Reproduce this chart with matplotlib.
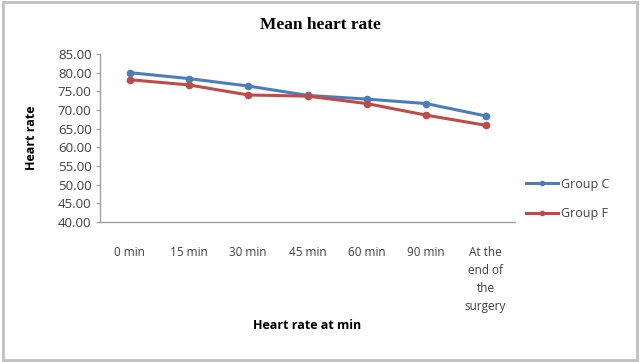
import matplotlib.pyplot as plt
from matplotlib.patches import Rectangle

categories = ["0 min", "15 min", "30 min", "45 min", "60 min", "90 min",
              "At the\nend of\nthe\nsurgery"]
group_c = [80.0, 78.4, 76.4, 73.9, 72.9, 71.7, 68.4]
group_f = [78.1, 76.7, 74.0, 73.7, 71.7, 68.6, 65.9]
y_ticks = [40, 45, 50, 55, 60, 65, 70, 75, 80, 85]

plt.rcParams['font.family'] = ['Open Sans', 'DejaVu Sans']
txt = '#404040'

fig = plt.figure(figsize=(6.4, 3.62), dpi=100)
ax = fig.add_axes([0.156, 0.387, 0.649, 0.464])

x = range(len(categories))
ax.plot(x, group_c, color='#4a7ebb', lw=2.2, marker='o', ms=4.5, label='Group C')
ax.plot(x, group_f, color='#be4b48', lw=2.2, marker='o', ms=4.5, label='Group F')

ax.set_xlim(-0.5, len(categories) - 0.5)
ax.set_ylim(40, 85)
ax.set_yticks(y_ticks)
ax.set_yticklabels(['%.2f' % v for v in y_ticks], fontsize=9.5, color=txt)
ax.set_xticks(list(x))
ax.set_xticklabels(categories, fontsize=8.5, color=txt, va='top', linespacing=1.5)
ax.tick_params(axis='x', length=0, pad=17)
ax.tick_params(axis='y', length=3, color='#a0a0a0', pad=3)

for s in ['top', 'right']:
    ax.spines[s].set_visible(False)
for s in ['left', 'bottom']:
    ax.spines[s].set_color('#a0a0a0')
    ax.spines[s].set_linewidth(1)

ax.set_ylabel('Heart rate', fontsize=9, fontweight='bold', color='black', labelpad=14)
ax.set_xlabel('Heart rate at min', fontsize=9, fontweight='bold', color='black', labelpad=5)

fig.text(0.5, 0.93, 'Mean heart rate', ha='center', va='center', fontsize=12.5,
         fontweight='bold', family='Liberation Serif', color='black')

leg = ax.legend(loc='center left', bbox_to_anchor=(1.0, 0.137), frameon=False,
                fontsize=9, handlelength=2.5, labelspacing=1.3, handletextpad=0.3)
for t in leg.get_texts():
    t.set_color(txt)
for h in leg.legend_handles:
    h.set_markersize(3)

fig.patches.append(Rectangle((0.004, 0.005), 0.992, 0.99, transform=fig.transFigure,
                             fill=False, ec='#c0c0c0', lw=2))

fig.savefig('out.png', dpi=100)
